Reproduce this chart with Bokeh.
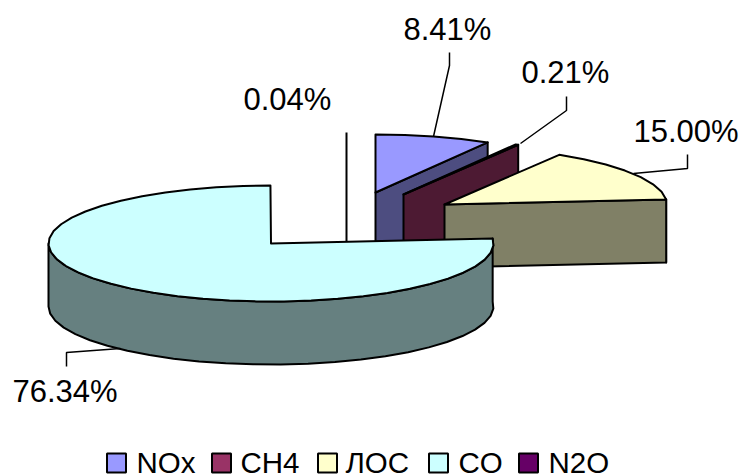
import numpy as np
from bokeh.core.properties import value
from bokeh.embed import file_html
from bokeh.models import Range1d
from bokeh.plotting import figure
from bokeh.resources import INLINE

# Emission shares, percent of the total, clockwise from 12 o'clock
gases = ["NOx", "CH4", "ЛОС", "CO", "N2O"]
shares = [8.41, 0.21, 15.00, 76.34, 0.04]

# Top-face and side-face colours of each slice
top_colors = ["#9999ff", "#993366", "#ffffcc", "#ccffff", "#660066"]
side_colors = ["#4d4d80", "#4d1a33", "#808066", "#668080", "#330033"]

# Exploded position of each slice's apex on the page
apex_x = [375, 403, 444, 270.5, 346]
apex_y = [192, 194, 204, 243, 190]

# Projection of the disc
RX, RY, DEPTH = 222.5, 58, 63
ARC_STEP = 7.0

# Drawing order, back to front
draw_order = [4, 0, 1, 2, 3]

# Value label positions (vertical centre of the digits) and leader polylines
label_x = [403, 521, 633, 12, 243]
label_y = [28.5, 71.5, 130.5, 391, 99]
leader_x = [[433, 449, 449], [520, 566, 566], [633, 687, 687], [120, 66, 66]]
leader_y = [[136, 65, 52], [143, 110, 96], [173, 168, 154], [348, 352, 366]]

# Legend layout
legend_box_x = [116, 221, 327, 438, 528]
legend_text_x = [136, 240, 345, 458, 548]
LEGEND_BOX_Y = 462.5
LEGEND_TEXT_Y = 462
LEGEND_BOX = 19

FONT = value("Liberation Sans")


def arc(cx, cy, start, stop):
    steps = max(int(abs(stop - start) / ARC_STEP), 1)
    theta = np.radians(np.linspace(start, stop, steps + 1))
    return cx + RX * np.sin(theta), cy - RY * np.cos(theta)


p = figure(
    width=741, height=474, output_backend="svg", toolbar_location=None,
    x_range=Range1d(0, 741), y_range=Range1d(474, 0),
    min_border=0, outline_line_color=None, background_fill_color="white",
)
p.axis.visible = False
p.grid.visible = False

edges = 360 * np.cumsum([0] + shares) / sum(shares)
STROKE = dict(line_color="black", line_width=2, line_join="round")

for i in draw_order:
    cx, cy = apex_x[i], apex_y[i]
    start, stop = edges[i], edges[i + 1]
    ax, ay = arc(cx, cy, start, stop)

    # A sliver too narrow to show a face reads as a plain vertical line
    if stop - start < 0.5:
        p.line([cx, cx], [cy - RY, cy + DEPTH], line_color="black", line_width=2)
        continue

    # Outer wall, only where the rim faces the viewer
    front_start, front_stop = max(start, 85.0), min(stop, 270.0)
    if front_start < front_stop:
        rx_, ry_ = arc(cx, cy, front_start, front_stop)
        p.patch(np.r_[rx_, rx_[::-1]], np.r_[ry_, ry_[::-1] + DEPTH],
                fill_color=side_colors[i], **STROKE)

    # Cut face that looks towards the viewer
    if stop < 180:
        p.patch([cx, ax[-1], ax[-1], cx],
                [cy, ay[-1], ay[-1] + DEPTH, cy + DEPTH],
                fill_color=side_colors[i], **STROKE)

    # Top face
    p.patch(np.r_[cx, ax], np.r_[cy, ay], fill_color=top_colors[i], **STROKE)

# Leader lines
for xs, ys in zip(leader_x, leader_y):
    p.line(xs, ys, line_color="black", line_width=1.5)

# Percent labels
p.text(label_x, label_y, text=[f"{v:.2f}%" for v in shares],
       text_font=FONT, text_font_size="31px", text_color="black",
       text_align="left", text_baseline="middle")

# Legend row
p.rect(legend_box_x, [LEGEND_BOX_Y] * len(gases), width=LEGEND_BOX, height=LEGEND_BOX,
       fill_color=top_colors, line_color="black", line_width=2)
p.text(legend_text_x, [LEGEND_TEXT_Y] * len(gases), text=gases,
       text_font=FONT, text_font_size="29.5px", text_color="black",
       text_align="left", text_baseline="middle")

open("out.html", "w").write(file_html(p, INLINE))
